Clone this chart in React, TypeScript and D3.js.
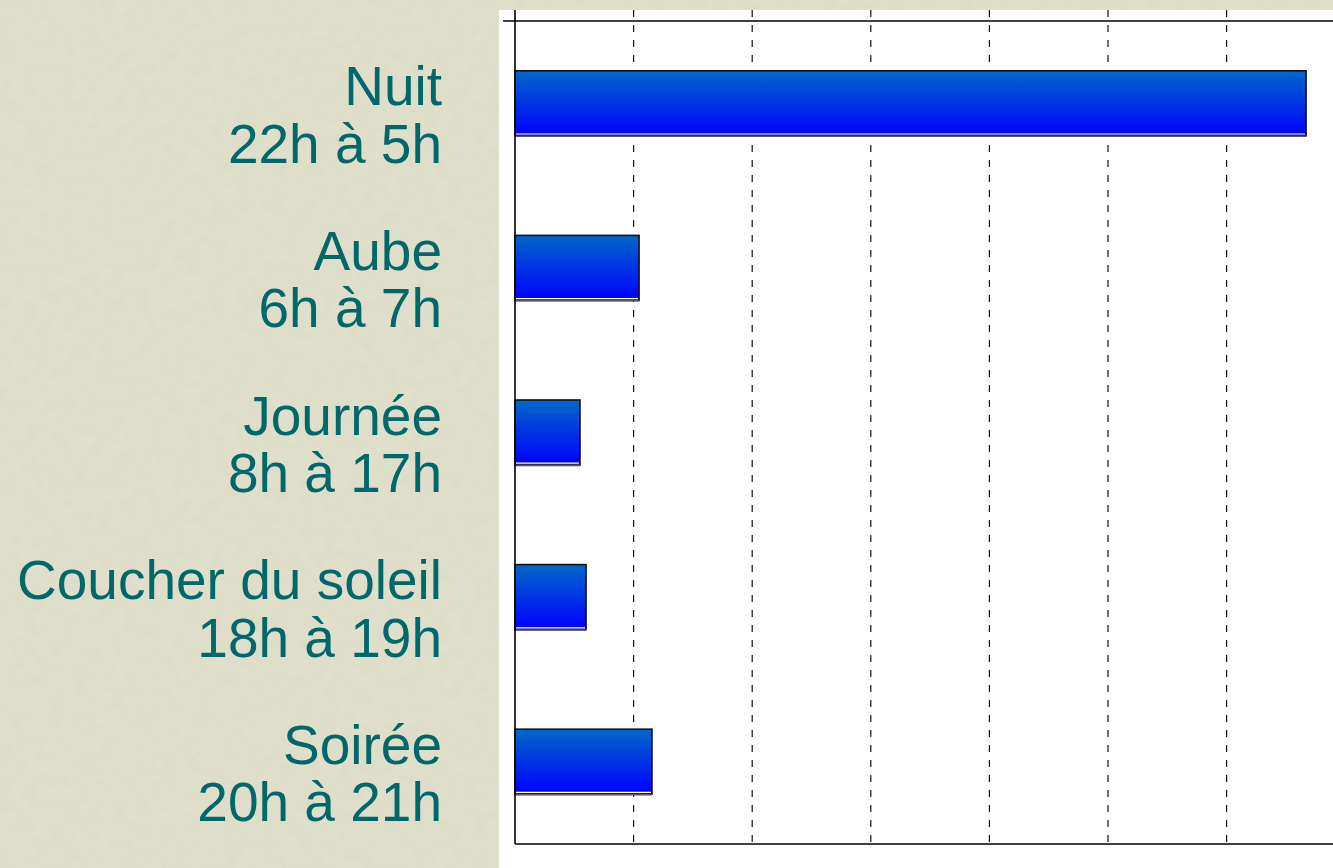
import React, { useEffect, useRef } from "react";
import * as d3 from "d3";

const categories = ["Nuit", "Aube", "Journée", "Coucher du soleil", "Soirée"];
const periods = ["22h à 5h", "6h à 7h", "8h à 17h", "18h à 19h", "20h à 21h"];
const values = [6.67, 1.046, 0.548, 0.599, 1.155];
const gridTicks = [1, 2, 3, 4, 5, 6, 7];

const App: React.FC = () => {
  const svgRef = useRef<SVGSVGElement | null>(null);

  useEffect(() => {
    if (!svgRef.current) return;
    const svg = d3.select(svgRef.current);
    svg.selectAll("*").remove();

    const width = 1333;
    const height = 868;
    const plot = { left: 515, top: 21, bottom: 844, panelLeft: 499, panelTop: 10 };

    const defs = svg.append("defs");

    // parchment texture: blotchy noise drawn over the base colour
    const filter = defs
      .append("filter")
      .attr("id", "paper")
      .attr("x", 0)
      .attr("y", 0)
      .attr("width", "100%")
      .attr("height", "100%");
    filter
      .append("feTurbulence")
      .attr("type", "fractalNoise")
      .attr("baseFrequency", 0.08)
      .attr("numOctaves", 4)
      .attr("seed", 7)
      .attr("result", "noise");
    filter
      .append("feColorMatrix")
      .attr("in", "noise")
      .attr("type", "matrix")
      .attr(
        "values",
        "0 0 0 0 0.62  0 0 0 0 0.62  0 0 0 0 0.52  0.45 0 0 0 -0.17"
      )
      .attr("result", "tint");
    filter
      .append("feComposite")
      .attr("in", "tint")
      .attr("in2", "SourceGraphic")
      .attr("operator", "over");

    const grad = defs
      .append("linearGradient")
      .attr("id", "barGrad")
      .attr("x1", 0)
      .attr("y1", 0)
      .attr("x2", 0)
      .attr("y2", 1);
    grad.append("stop").attr("offset", "0%").attr("stop-color", "#0068c8");
    grad.append("stop").attr("offset", "100%").attr("stop-color", "#0000ff");

    svg
      .append("rect")
      .attr("width", width)
      .attr("height", height)
      .attr("fill", "#e0dfcb")
      .attr("filter", "url(#paper)");

    svg
      .append("rect")
      .attr("x", plot.panelLeft)
      .attr("y", plot.panelTop)
      .attr("width", width - plot.panelLeft)
      .attr("height", height - plot.panelTop)
      .attr("fill", "#ffffff");

    const x = d3.scaleLinear().domain([0, 7]).range([plot.left, plot.left + 7 * 118.6]);
    const y = d3
      .scaleBand<string>()
      .domain(categories)
      .range([plot.top, plot.bottom])
      .paddingInner(0.605)
      .paddingOuter(0.3025);

    // dashed grid
    svg
      .append("g")
      .selectAll("line")
      .data(gridTicks)
      .enter()
      .append("line")
      .attr("x1", (d) => x(d))
      .attr("x2", (d) => x(d))
      .attr("y1", plot.panelTop)
      .attr("y2", plot.bottom)
      .attr("stroke", "#111")
      .attr("stroke-width", 1.2)
      .attr("stroke-dasharray", "7,8");

    // frame
    svg
      .append("line")
      .attr("x1", 503)
      .attr("x2", width)
      .attr("y1", plot.top)
      .attr("y2", plot.top)
      .attr("stroke", "#000")
      .attr("stroke-width", 1.6);
    svg
      .append("line")
      .attr("x1", plot.left)
      .attr("x2", width)
      .attr("y1", plot.bottom)
      .attr("y2", plot.bottom)
      .attr("stroke", "#000")
      .attr("stroke-width", 1.6);

    // bars
    const bars = svg.append("g");
    bars
      .selectAll("rect.bar")
      .data(values)
      .enter()
      .append("rect")
      .attr("class", "bar")
      .attr("x", x(0))
      .attr("y", (_, i) => y(categories[i])!)
      .attr("width", (d) => x(d) - x(0))
      .attr("height", y.bandwidth())
      .attr("fill", "url(#barGrad)")
      .attr("stroke", "#111")
      .attr("stroke-width", 1.6);
    bars
      .selectAll("line.shine")
      .data(values)
      .enter()
      .append("line")
      .attr("class", "shine")
      .attr("x1", x(0) + 1)
      .attr("x2", (d) => x(d) - 1)
      .attr("y1", (_, i) => y(categories[i])! + y.bandwidth() - 1.8)
      .attr("y2", (_, i) => y(categories[i])! + y.bandwidth() - 1.8)
      .attr("stroke", "#fff")
      .attr("stroke-width", 1.2);
    bars
      .selectAll("line.shade")
      .data(values)
      .enter()
      .append("line")
      .attr("class", "shade")
      .attr("x1", x(0))
      .attr("x2", (d) => x(d))
      .attr("y1", (_, i) => y(categories[i])! + y.bandwidth() + 0.4)
      .attr("y2", (_, i) => y(categories[i])! + y.bandwidth() + 0.4)
      .attr("stroke", "#555")
      .attr("stroke-width", 1.6);

    svg
      .append("line")
      .attr("x1", plot.left)
      .attr("x2", plot.left)
      .attr("y1", plot.panelTop)
      .attr("y2", plot.bottom)
      .attr("stroke", "#000")
      .attr("stroke-width", 1.6);

    // category labels
    const labels = svg.append("g");
    categories.forEach((c, i) => {
      const cy = y(c)! + y.bandwidth() / 2;
      const t = labels
        .append("text")
        .attr("text-anchor", "end")
        .attr("font-family", "'Liberation Sans', Arial, sans-serif")
        .attr("font-size", 55)
        .attr("fill", "#00676a");
      t.append("tspan").attr("x", 442).attr("y", cy + 2).text(c);
      t.append("tspan").attr("x", 442).attr("y", cy + 59.5).text(periods[i]);
    });
  }, []);

  return (
    <svg
      ref={svgRef}
      width={1333}
      height={868}
      style={{ position: "fixed", left: 0, top: 0, display: "block" }}
    ></svg>
  );
};

export default App;
